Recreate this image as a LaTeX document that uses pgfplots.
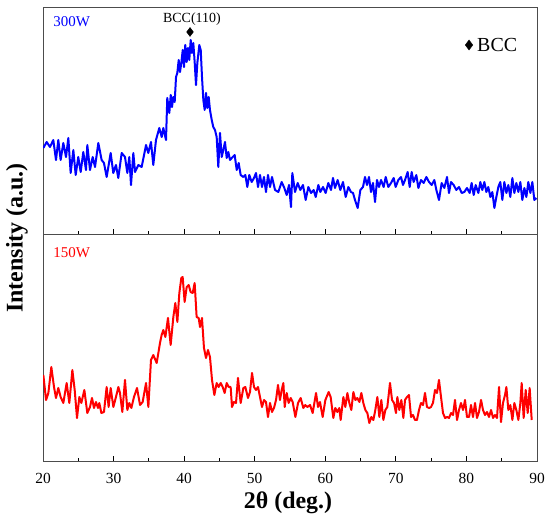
\documentclass[border=0pt]{standalone}
\usepackage{pgfplots}
\pgfplotsset{compat=1.18}
\usepackage{fontspec}
\setmainfont{Liberation Serif}

\pgfplotstableread{
x y
20.05 86
20.52 92
20.99 87
21.46 94
21.84 74
22.17 94
22.50 74
22.88 91
23.26 77
23.59 96
23.92 61
24.30 84
24.63 59
25.00 77
25.34 62
25.71 82
26.09 64
26.28 89
26.66 64
27.04 77
27.37 67
27.84 91
28.31 74
28.64 71
29.02 57
29.59 81
29.96 61
30.34 69
30.67 56
31.15 81
31.62 77
31.95 61
32.23 77
32.47 49
32.80 81
33.04 62
33.51 69
33.98 67
34.60 89
34.92 81
35.30 92
35.63 69
36.01 94
36.48 106
36.82 97
37.05 106
37.43 94
37.61 136
37.90 121
38.10 139
38.28 127
38.46 137
38.66 132
38.85 157
39.03 161
39.23 174
39.41 162
39.60 171
39.80 184
39.98 167
40.16 189
40.36 172
40.55 186
40.73 174
40.93 194
41.11 181
41.30 191
41.50 171
41.68 149
41.87 171
42.15 189
42.35 184
42.53 157
42.72 134
42.91 124
43.10 141
43.28 126
43.48 137
43.66 124
43.91 114
44.13 107
44.37 104
44.61 97
44.84 67
45.08 101
45.32 77
45.55 84
45.79 92
46.03 76
46.26 82
46.50 74
46.88 77
47.16 79
47.45 64
47.73 71
48.01 59
48.38 57
48.67 59
48.95 47
49.23 59
49.57 52
49.90 56
50.18 61
50.47 47
50.75 59
51.03 47
51.31 57
51.60 42
51.88 59
52.17 47
52.45 57
52.88 44
53.35 42
53.82 52
54.20 46
54.53 39
54.86 49
55.14 27
55.33 61
55.71 42
56.09 51
56.46 44
56.84 49
57.22 34
57.60 47
57.98 41
58.35 44
58.64 37
59.02 49
59.30 42
59.68 47
60.05 41
60.43 51
60.81 44
61.09 56
61.38 46
61.75 54
62.13 44
62.51 52
62.89 37
63.27 47
63.64 42
63.93 41
64.21 34
64.59 26
64.97 44
65.34 47
65.63 57
65.91 49
66.19 57
66.48 42
66.76 51
67.05 32
67.33 54
67.61 47
67.90 54
68.27 47
68.56 57
68.93 47
69.31 51
69.69 56
69.97 47
70.35 54
70.73 57
71.01 49
71.30 54
71.67 62
71.96 47
72.24 62
72.52 52
72.90 59
73.19 46
73.56 54
73.94 51
74.32 57
74.70 52
75.08 49
75.45 54
75.74 44
76.11 34
76.49 51
76.87 46
77.25 57
77.53 41
77.81 52
78.19 49
78.57 44
78.95 47
79.33 41
79.70 42
80.08 46
80.46 41
80.74 51
81.03 39
81.31 49
81.69 41
81.97 52
82.25 44
82.54 52
82.82 42
83.10 47
83.39 37
83.67 42
83.96 26
84.24 37
84.52 47
84.80 52
85.09 34
85.37 52
85.66 41
85.94 49
86.22 37
86.51 56
86.79 41
87.07 51
87.36 42
87.64 52
87.92 34
88.21 46
88.49 37
88.77 52
89.06 41
89.34 52
89.62 34
89.91 36
}\topdata

\pgfplotstableread{
x y
20.05 86
20.43 61
20.76 68
21.18 94
21.56 74
21.84 63
22.17 73
22.50 64
22.88 58
23.35 78
23.73 58
24.16 91
24.49 71
24.82 43
25.15 64
25.43 58
25.86 71
26.28 48
26.66 54
26.94 63
27.23 53
27.51 59
27.79 53
27.98 58
28.27 48
28.64 49
29.02 74
29.30 54
29.59 73
29.97 54
30.34 64
30.68 74
30.91 68
31.24 49
31.62 81
31.95 51
32.23 58
32.52 53
32.89 64
33.32 73
33.75 56
34.12 59
34.60 78
34.93 54
35.30 101
35.63 106
36.11 98
36.58 118
36.81 126
37.05 131
37.34 124
37.71 143
38.09 116
38.47 144
38.75 158
39.04 139
39.32 168
39.60 183
39.79 184
40.07 159
40.36 174
40.64 176
40.92 169
41.21 168
41.49 178
41.77 144
42.06 143
42.25 134
42.53 143
42.81 113
43.10 103
43.38 111
43.66 104
43.95 81
44.28 66
44.61 78
44.89 74
45.18 78
45.46 74
45.74 68
46.03 78
46.31 74
46.59 74
46.78 54
47.06 59
47.35 58
47.63 83
48.01 58
48.39 73
48.67 74
49.05 63
49.33 69
49.62 88
49.90 74
50.18 71
50.47 74
50.75 64
51.03 54
51.32 61
51.60 59
51.88 44
52.17 58
52.45 49
52.73 53
53.02 61
53.30 76
53.58 61
53.82 71
54.06 78
54.25 54
54.53 68
54.81 58
55.10 63
55.38 59
55.76 44
56.14 58
56.51 63
56.89 53
57.17 56
57.46 54
57.84 56
58.21 48
58.69 68
58.97 54
59.25 59
59.63 44
60.01 61
60.48 69
60.76 64
61.14 43
61.42 53
61.71 49
61.99 53
62.18 41
62.56 64
62.84 54
63.13 68
63.41 58
63.69 51
63.98 69
64.26 61
64.54 63
64.83 59
65.11 68
65.39 58
65.68 51
65.96 48
66.24 38
66.53 44
66.81 41
67.09 51
67.38 64
67.66 44
67.94 61
68.23 41
68.51 51
68.79 54
69.17 78
69.46 61
69.74 58
70.02 48
70.21 64
70.49 51
70.78 61
71.06 43
71.30 61
71.58 64
71.86 66
72.15 44
72.43 46
72.71 41
72.99 41
73.28 51
73.56 58
73.85 56
74.13 68
74.41 54
74.70 53
74.98 54
75.26 58
75.55 71
75.83 68
76.11 81
76.40 64
76.68 48
76.97 43
77.25 44
77.53 43
77.82 48
78.10 46
78.38 61
78.67 41
78.95 51
79.23 58
79.52 51
79.80 61
80.08 44
80.37 44
80.65 56
80.93 44
81.22 58
81.50 43
81.78 49
82.07 61
82.35 51
82.63 46
82.92 49
83.20 44
83.49 51
83.77 43
84.05 46
84.33 43
84.62 74
84.90 39
85.18 58
85.47 66
85.66 74
85.94 51
86.22 56
86.51 41
86.79 58
87.07 51
87.36 41
87.64 58
87.83 78
88.11 43
88.40 71
88.68 48
88.96 73
89.25 41
}\botdata

\pgfplotsset{
  xrdpanel/.style={
    width=494bp, height=227bp, scale only axis,
    xmin=20, xmax=90, ymin=0, ymax=227,
    ytick=\empty,
    xtick={20,30,...,90},
    minor x tick num=1,
    tick align=inside,
    xtick pos=left,
    major tick length=5bp,
    minor tick length=3bp,
    axis line style={black!70, line width=0.9bp},
    every tick/.style={black, line width=0.8bp},
    tick label style={font=\fontsize{15.5}{18}\selectfont},
    /pgf/number format/assume math mode=true,
  },
}

\begin{document}
\begin{tikzpicture}
\path[use as bounding box] (-43bp,-60bp) rectangle (507bp,461bp);
\begin{axis}[xrdpanel, at={(0,0)}, anchor=south west,
  xticklabel style={anchor=north, yshift=-8.5bp}]
  \addplot[red, line width=2bp, line join=round] table {\botdata};
  \node[anchor=west, text=red, font=\fontsize{15}{18}\selectfont] at (rel axis cs:0.014,0.916) {150W};
\end{axis}
\begin{axis}[xrdpanel, at={(0,227bp)}, anchor=south west, xticklabels=\empty]
  \addplot[blue, line width=2bp, line join=round] table {\topdata};
  \addplot[only marks, mark=diamond*, mark size=4.5bp, black] coordinates {(40.83,202)};
  \addplot[only marks, mark=diamond*, mark size=5bp, black] coordinates {(80.37,189)};
  \node[font=\fontsize{14}{17}\selectfont] at (axis cs:41.1,214.5) {BCC(110)};
  \node[anchor=west, font=\fontsize{20}{24}\selectfont, inner sep=0pt] at (axis cs:81.5,189) {BCC};
  \node[anchor=west, text=blue, font=\fontsize{15}{18}\selectfont] at (rel axis cs:0.014,0.936) {300W};
\end{axis}
\node[rotate=90, font=\fontsize{24}{28}\selectfont\bfseries] at (-26bp,223bp) {Intensity (a.u.)};
\node[font=\fontsize{24}{28}\selectfont\bfseries] at (245bp,-42bp) {2θ (deg.)};
\end{tikzpicture}
\end{document}
